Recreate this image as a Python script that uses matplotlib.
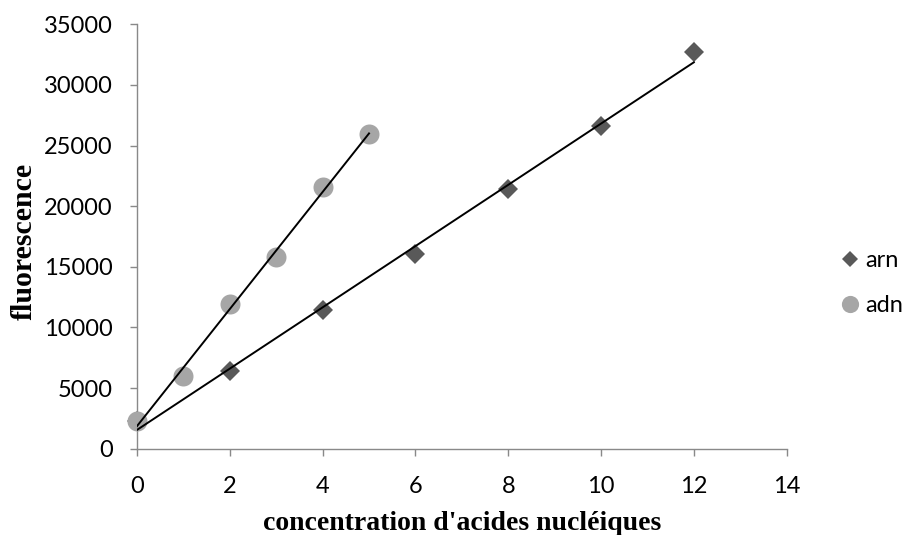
import numpy as np
import matplotlib
matplotlib.use("Agg")
import matplotlib.pyplot as plt

# Données
x_arn = [0, 2, 4, 6, 8, 10, 12]
y_arn = [2300, 6425, 11425, 16095, 21450, 26580, 32680]

x_adn = [0, 1, 2, 3, 4, 5]
y_adn = [2300, 6013, 11920, 15790, 21580, 25980]

x_ticks = [0, 2, 4, 6, 8, 10, 12, 14]
y_ticks = [0, 5000, 10000, 15000, 20000, 25000, 30000, 35000]

gris_axe = "#898989"
tick_font = "Lato"
label_font = "Liberation Serif"

fig = plt.figure(figsize=(9.06, 5.35), dpi=100)
ax = fig.add_axes([0.1512, 0.1613, 0.7171, 0.7933])

# Points
ax.plot(x_arn, y_arn, linestyle="none", marker="D", markersize=9.8,
        color="#595959", markeredgewidth=0, label="arn", zorder=3,
        clip_on=False)
ax.plot(x_adn, y_adn, linestyle="none", marker="o", markersize=14.4,
        color="#A6A6A6", markeredgewidth=0, label="adn", zorder=3,
        clip_on=False)

# Courbes de tendance (régression linéaire)
for xs, ys in [(x_arn, y_arn), (x_adn, y_adn)]:
    a, b = np.polyfit(xs, ys, 1)
    xx = np.array([min(xs), max(xs)])
    ax.plot(xx, a * xx + b, color="black", linewidth=1.4, zorder=4)

ax.set_xlim(0, 14)
ax.set_ylim(0, 35000)
ax.set_xticks(x_ticks)
ax.set_yticks(y_ticks)

for s in ["top", "right"]:
    ax.spines[s].set_visible(False)
for s in ["left", "bottom"]:
    ax.spines[s].set_color(gris_axe)
    ax.spines[s].set_linewidth(1.0)
    ax.spines[s].set_zorder(2)

ax.tick_params(axis="both", direction="out", length=5, width=1.0,
               color=gris_axe, labelsize=17)
ax.tick_params(axis="x", pad=14.5)
ax.tick_params(axis="y", pad=12.3)
for lab in ax.get_xticklabels() + ax.get_yticklabels():
    lab.set_fontfamily(tick_font)

ax.set_xlabel("concentration d'acides nucléiques", fontfamily=label_font,
              fontweight="bold", fontsize=20, va="baseline")
ax.xaxis.set_label_coords(0.5, -0.1914)
ax.set_ylabel("fluorescence", fontfamily=label_font, fontweight="bold",
              fontsize=21.5, va="center")
ax.yaxis.set_label_coords(-0.1728, 0.4874)

leg = ax.legend(loc="center left", bbox_to_anchor=(0.9305, 0.471),
                bbox_transform=fig.transFigure, frameon=False,
                borderpad=0, borderaxespad=0, handlelength=0.6,
                handletextpad=0.35, labelspacing=1.03, markerscale=0.86,
                prop={"family": tick_font, "size": 17})

plt.savefig("out.png", dpi=100)
